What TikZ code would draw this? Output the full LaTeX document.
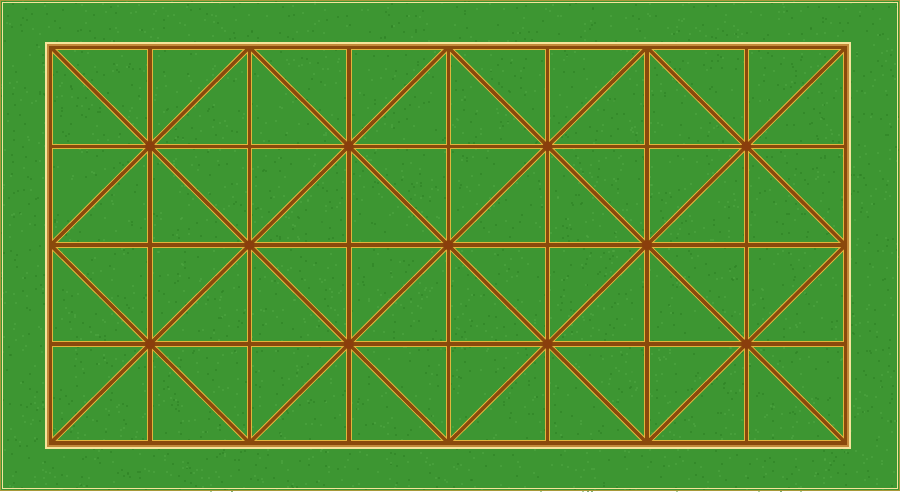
\documentclass[tikz,border=0pt]{standalone}
\usepackage{tikz}
\usepackage{xcolor}

\definecolor{feltgreen}{HTML}{3D9632}
\definecolor{feltdark}{HTML}{2F8226}
\definecolor{feltlight}{HTML}{52A844}
\definecolor{linebrown}{HTML}{8A4A0C}
\definecolor{lineyellow}{HTML}{E2B43C}
\definecolor{frametan}{HTML}{C48A3A}
\definecolor{framepale}{HTML}{F6E49A}
\definecolor{rimolive}{HTML}{A89A3A}
\definecolor{dotbrown}{HTML}{8A3E0C}

\tikzset{
  edgeline/.style={draw=lineyellow, line width=5.4pt},
  coreline/.style={draw=linebrown, line width=3.4pt}
}

\begin{document}
\begin{tikzpicture}[x=1pt,y=-1pt]
            % felt and rim
            \fill[feltgreen] (0,0) rectangle (900,491);
            \useasboundingbox (0,0) rectangle (900,491);
            \pgfmathsetseed{42}
            \foreach \k in {1,...,1800}
            {
                \fill[feltdark, opacity=0.6] (900*rnd,491*rnd) rectangle ++(2,2);
                \fill[feltlight, opacity=0.5] (900*rnd,491*rnd) rectangle ++(2,2);
            }
            \draw[rimolive, line width=1pt] (0.5,0.5) rectangle (899.5,490.5);
            \draw[framepale, line width=1.6pt] (2.6,2.6) rectangle (897.6,488.4);
            \begin{scope}[shift={(50.7pt,-47.3pt)}, x=99.375pt, y=-98.9pt]
                % yellow edges
                \draw[edgeline] (0,0) rectangle (8,4);
                \foreach \i in {1,...,7}
                {
                    \draw[edgeline] (\i,0) -- (\i,4);
                }
                \foreach \j in {1,2,3}
                {
                    \draw[edgeline] (0,\j) -- (8,\j);
                }
                \foreach \a/\b/\c/\d in {0/2/2/4, 0/0/4/4, 2/0/6/4, 4/0/8/4, 6/0/8/2,
                                         0/2/2/0, 0/4/4/0, 2/4/6/0, 4/4/8/0, 6/4/8/2}
                {
                    \draw[edgeline] (\a,\b) -- (\c,\d);
                }
                % frame bands
                \draw[frametan, line width=2pt] ([shift={(-2.7pt,2.7pt)}]0,0) rectangle ([shift={(2.7pt,-2.7pt)}]8,4);
                \draw[framepale, line width=2pt] ([shift={(-4.7pt,4.7pt)}]0,0) rectangle ([shift={(4.7pt,-4.7pt)}]8,4);
                % brown lines
                \draw[coreline] (0,0) rectangle (8,4);
                \foreach \i in {1,...,7}
                {
                    \draw[coreline] (\i,0) -- (\i,4);
                }
                \foreach \j in {1,2,3}
                {
                    \draw[coreline] (0,\j) -- (8,\j);
                }
                \foreach \a/\b/\c/\d in {0/2/2/4, 0/0/4/4, 2/0/6/4, 4/0/8/4, 6/0/8/2,
                                         0/2/2/0, 0/4/4/0, 2/4/6/0, 4/4/8/0, 6/4/8/2}
                {
                    \draw[coreline] (\a,\b) -- (\c,\d);
                }
                % crossing dots
                \foreach \i/\j in {1/1, 3/1, 5/1, 7/1, 2/2, 4/2, 6/2, 1/3, 3/3, 5/3, 7/3}
                {
                    \fill[dotbrown] (\i,\j) circle[radius=5pt];
                }
            \end{scope}
        \end{tikzpicture}
\end{document}
